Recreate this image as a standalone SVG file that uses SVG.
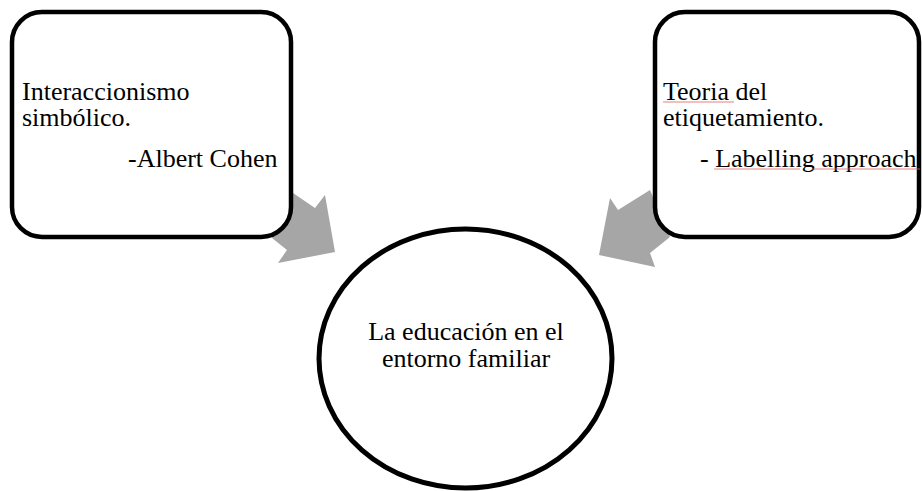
<svg xmlns="http://www.w3.org/2000/svg" width="922" height="491" viewBox="0 0 922 491">
<style>
.box{fill:#fff;stroke:#000;stroke-width:4.5}
.arrow{fill:#a6a6a6;stroke:none}
.t{font-family:"Liberation Serif","Times New Roman",serif;font-size:26px;fill:#000}
.sp{stroke:#e06060;stroke-width:0.8;fill:none}
</style>
<rect width="922" height="491" fill="#fff"/>
<g id="connectors">
<polygon class="arrow" points="293,193 315,208 325,195 335,252 278,263 287,250 272,238"/>
<polygon class="arrow" points="650,190 618,210 610,198 599,255 655,267 650,253 670,237"/>
</g>
<g id="node-left">
<rect class="box" x="12" y="12" width="279" height="225" rx="30" ry="30"/>
<text class="t" x="22" y="100">Interaccionismo</text>
<text class="t" x="22" y="126">simbólico.</text>
<text class="t" x="128" y="167">-Albert Cohen</text>
</g>
<g id="node-right">
<rect class="box" x="655" y="12" width="264" height="225" rx="30" ry="30"/>
<text class="t" x="663" y="100">Teoria del</text>
<text class="t" x="663" y="126">etiquetamiento.</text>
<text class="t" x="700" y="167">- Labelling approach</text>
<path class="sp" d="M663,102 H734"/>
<path class="sp" d="M714,169 H800 M812,169 H920"/>
</g>
<g id="node-center">
<ellipse cx="465.5" cy="358.5" rx="146.5" ry="129.5" fill="#fff" stroke="#000" stroke-width="5"/>
<text class="t" x="466" y="340" text-anchor="middle">La educación en el</text>
<text class="t" x="466" y="367" text-anchor="middle">entorno familiar</text>
</g>
</svg>
